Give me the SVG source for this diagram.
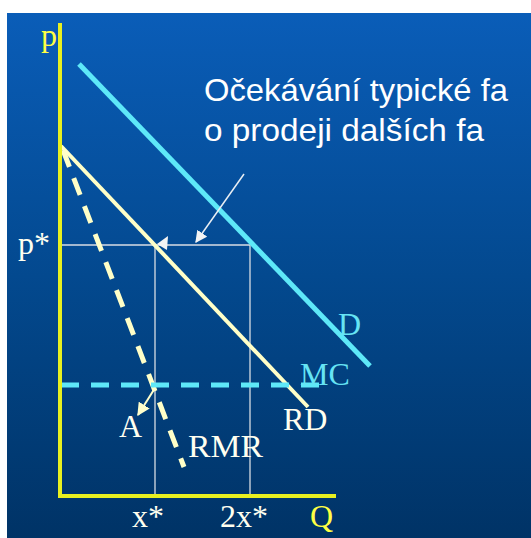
<svg xmlns="http://www.w3.org/2000/svg" width="531" height="538" viewBox="0 0 531 538">
<defs>
<linearGradient id="bg" x1="0" y1="0" x2="0" y2="1">
<stop offset="0" stop-color="#0a5db8"/>
<stop offset="0.5" stop-color="#03498f"/>
<stop offset="1" stop-color="#003366"/>
</linearGradient>
<marker id="wh" viewBox="0 0 10 10" refX="9" refY="5" markerWidth="12" markerHeight="12" markerUnits="userSpaceOnUse" orient="auto">
<path d="M0,0 L10,5 L0,10 Z" fill="#f4f4f4"/>
</marker>
<marker id="yh" viewBox="0 0 10 10" refX="9" refY="5" markerWidth="13" markerHeight="13" markerUnits="userSpaceOnUse" orient="auto">
<path d="M0,0 L10,5 L0,10 Z" fill="#ffffcc"/>
</marker>
</defs>
<style>
.serif{font-family:"Liberation Serif","Times New Roman",serif;font-size:32px}
.sans{font-family:"Liberation Sans",Arial,sans-serif;font-size:32px;fill:#ffffff}
.cream{fill:#fffff0}
.yel{fill:#ffff44}
.cyan{fill:#66e4f4}
.thin{stroke:#d8dde4;stroke-width:1.3;fill:none}
</style>
<rect x="0" y="0" width="531" height="538" fill="#ffffff"/>
<rect x="7" y="13" width="524" height="525" fill="url(#bg)"/>

<g id="connectors">
<!-- guide lines -->
<line class="thin" x1="60" y1="245" x2="250" y2="245"/>
<line class="thin" x1="155" y1="245" x2="155" y2="496"/>
<line class="thin" x1="250" y1="245" x2="250" y2="496"/>
<polygon points="157,244 168,236 167,250" fill="#f4f4f4"/>
<!-- D -->
<line x1="79" y1="64" x2="370" y2="366" stroke="#5ee8f8" stroke-width="5"/>
<!-- RD -->
<line x1="61" y1="146" x2="308" y2="407" stroke="#ffffc8" stroke-width="4"/>
<!-- RMR dashed -->
<line x1="63" y1="150" x2="184" y2="467" stroke="#ffffc8" stroke-width="5" stroke-dasharray="18,12"/>
<!-- MC dashed -->
<line x1="61" y1="385" x2="330" y2="385" stroke="#5ee8f8" stroke-width="5" stroke-dasharray="18,12"/>
<!-- annotation arrow -->
<line x1="244" y1="174" x2="196" y2="242" stroke="#e8eef4" stroke-width="1.5" marker-end="url(#wh)"/>
<!-- A arrow -->
<line x1="155" y1="388" x2="138" y2="415" stroke="#ffffcc" stroke-width="2" marker-end="url(#yh)"/>
<!-- axes -->
<line x1="60" y1="23" x2="60" y2="497" stroke="#e8f020" stroke-width="4"/>
<line x1="58" y1="496" x2="336" y2="496" stroke="#e8f020" stroke-width="4"/>
</g>

<g id="labels">
<text class="serif yel" x="41" y="46">p</text>
<text class="serif cream" x="18" y="254">p*</text>
<text class="serif cyan" x="338" y="335">D</text>
<text class="serif cyan" x="300" y="385">MC</text>
<text class="serif cream" x="283" y="430">RD</text>
<text class="serif cream" x="119" y="437">A</text>
<text class="serif cream" x="188" y="457" textLength="75" lengthAdjust="spacingAndGlyphs">RMR</text>
<text class="serif cream" x="132" y="527">x*</text>
<text class="serif cream" x="220" y="527">2x*</text>
<text class="serif yel" x="310" y="527">Q</text>
<text class="sans" x="204" y="101" textLength="304" lengthAdjust="spacingAndGlyphs">Očekávání typické fa</text>
<text class="sans" x="204" y="141" textLength="280" lengthAdjust="spacingAndGlyphs">o prodeji dalších fa</text>
</g>
</svg>
